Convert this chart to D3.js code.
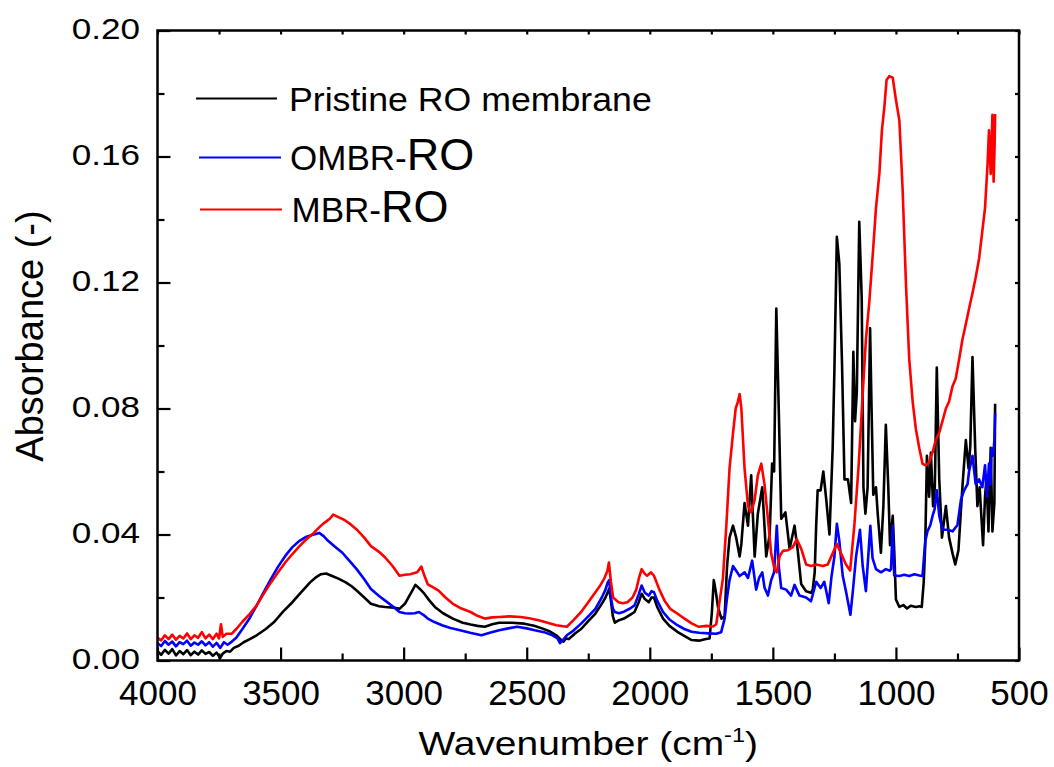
<!DOCTYPE html>
<html>
<head>
<meta charset="utf-8">
<script src="https://cdn.jsdelivr.net/npm/d3@7"></script>
<style>
  html, body { margin: 0; padding: 0; background: #fff; }
  svg text { font-family: "Liberation Sans", Arial, Helvetica, sans-serif; fill: #000; }
</style>
</head>
<body>
<svg id="chart" width="1054" height="767"></svg>
<script>
// ---------------- data ----------------
const xMajorTicks = [4000, 3500, 3000, 2500, 2000, 1500, 1000, 500];
const xMinorTicks = [3750, 3250, 2750, 2250, 1750, 1250, 750];
const yMajorTicks = [0, 0.04, 0.08, 0.12, 0.16, 0.20];
const yMinorTicks = [0.02, 0.06, 0.10, 0.14, 0.18];
const yTickLabels = ["0.00", "0.04", "0.08", "0.12", "0.16", "0.20"];

const seriesNames = ["Pristine RO membrane", "OMBR-RO", "MBR-RO"];
const seriesColors = ["#000000", "#0000ff", "#ff0000"];

const pristineWn = [4000,3985,3970,3955,3940,3925,3910,3895,3880,3865,3850,3835,3820,3805,3790,3775,3760,3745,3735,3720,3705,3690,3670,3650,3625,3597,3560,3525,3490,3452,3415,3380,3355,3336,3315,3293,3265,3235,3210,3191,3160,3133,3100,3075,3040,3017,2995,2970,2952,2935,2916,2895,2873,2840,2800,2760,2728,2700,2670,2640,2612,2560,2510,2470,2438,2405,2380,2360,2351,2340,2329,2300,2279,2250,2221,2195,2180,2171,2165,2158,2150,2142,2125,2105,2080,2062,2045,2033,2020,2004,1993,1983,1970,1946,1920,1888,1860,1830,1800,1772,1757,1748,1740,1732,1723,1709,1696,1686,1676,1662,1649,1635,1628,1615,1601,1588,1574,1561,1543,1527,1513,1503,1495,1486,1476,1466,1449,1432,1412,1399,1385,1365,1345,1338,1330,1324,1318,1306,1295,1283,1270,1257,1250,1240,1230,1219,1209,1195,1182,1173,1166,1159,1149,1139,1132,1124,1115,1105,1099,1092,1081,1074,1061,1051,1041,1031,1024,1013,1007,1000,986,970,955,940,919,905,895,887,881,874,865,858,849,842,834,824,813,805,797,784,770,759,746,730,716,705,698,689,678,669,660,646,638,632,624,615,608,600,597];
const pristineAbs = [.0030,.0018,.0034,.0022,.0036,.0016,.0030,.0020,.0033,.0017,.0028,.0019,.0032,.0021,.0027,.0015,.0025,.0008,.0022,.0030,.0028,.0040,.0047,.0058,.0068,.0080,.0100,.0123,.0155,.0185,.0218,.0248,.0265,.0274,.0276,.0269,.0260,.0248,.0235,.0222,.0200,.0180,.0172,.0170,.0168,.0164,.0180,.0215,.0240,.0228,.0212,.0190,.0170,.0150,.0133,.0120,.0114,.0110,.0107,.0115,.0120,.0120,.0117,.0110,.0102,.0092,.0080,.0065,.0060,.0070,.0068,.0088,.0100,.0125,.0149,.0180,.0200,.0217,.0228,.0190,.0140,.0120,.0128,.0133,.0145,.0154,.0185,.0212,.0195,.0185,.0200,.0200,.0170,.0133,.0110,.0091,.0078,.0065,.0063,.0068,.0070,.0150,.0255,.0220,.0170,.0133,.0140,.0300,.0390,.0428,.0390,.0330,.0370,.0500,.0428,.0588,.0330,.0466,.0550,.0330,.0400,.0625,.0600,.1117,.0797,.0450,.0470,.0354,.0428,.0350,.0243,.0220,.0215,.0225,.0280,.0428,.0540,.0540,.0600,.0510,.0400,.0674,.0920,.1345,.1260,.0942,.0575,.0575,.0500,.0980,.0760,.0850,.1393,.1150,.0550,.0466,.0550,.1055,.0800,.0526,.0550,.0466,.0342,.0490,.0748,.0550,.0366,.0459,.0350,.0194,.0170,.0176,.0165,.0174,.0170,.0172,.0170,.0250,.0366,.0650,.0520,.0660,.0490,.0550,.0930,.0575,.0390,.0440,.0490,.0390,.0340,.0305,.0350,.0550,.0700,.0610,.0680,.0963,.0675,.0490,.0550,.0366,.0520,.0580,.0410,.0675,.0410,.0500,.0815];

const ombrWn = [4000,3985,3970,3955,3940,3925,3910,3895,3880,3865,3850,3835,3820,3805,3790,3775,3760,3745,3730,3715,3698,3680,3655,3625,3597,3570,3539,3510,3481,3452,3423,3395,3365,3343,3325,3307,3280,3249,3220,3191,3160,3133,3100,3075,3045,3017,2995,2974,2955,2938,2920,2902,2875,2844,2810,2771,2730,2684,2650,2612,2575,2539,2500,2467,2430,2395,2375,2365,2350,2337,2310,2279,2250,2221,2195,2180,2171,2165,2158,2150,2142,2125,2105,2080,2062,2045,2033,2020,2004,1993,1983,1970,1946,1920,1888,1860,1830,1800,1760,1730,1710,1696,1686,1676,1662,1649,1635,1615,1601,1584,1568,1556,1543,1534,1520,1507,1495,1484,1476,1466,1446,1426,1412,1392,1365,1345,1324,1306,1291,1273,1262,1250,1240,1230,1216,1203,1185,1175,1162,1146,1135,1122,1104,1095,1081,1061,1041,1025,1020,1013,1007,986,966,946,925,905,892,881,872,860,851,843,834,824,811,790,770,750,736,723,709,703,689,676,662,649,638,630,622,616,611,605,600,597];
const ombrAbs = [.0055,.0046,.0062,.0050,.0060,.0045,.0058,.0052,.0063,.0047,.0057,.0050,.0061,.0048,.0058,.0044,.0056,.0040,.0058,.0050,.0060,.0072,.0100,.0135,.0175,.0215,.0259,.0298,.0332,.0360,.0380,.0393,.0400,.0405,.0395,.0380,.0362,.0342,.0316,.0290,.0258,.0227,.0205,.0190,.0172,.0154,.0150,.0149,.0150,.0154,.0145,.0133,.0122,.0112,.0103,.0096,.0088,.0080,.0088,.0096,.0102,.0107,.0102,.0096,.0090,.0080,.0070,.0055,.0068,.0080,.0095,.0117,.0140,.0164,.0200,.0225,.0248,.0255,.0200,.0165,.0154,.0150,.0155,.0165,.0175,.0210,.0238,.0215,.0206,.0220,.0217,.0190,.0154,.0130,.0112,.0100,.0091,.0088,.0086,.0085,.0090,.0133,.0200,.0255,.0300,.0285,.0268,.0280,.0262,.0317,.0225,.0262,.0280,.0232,.0206,.0255,.0280,.0428,.0300,.0230,.0225,.0206,.0240,.0206,.0200,.0188,.0250,.0230,.0250,.0182,.0265,.0330,.0434,.0380,.0268,.0220,.0145,.0220,.0330,.0415,.0300,.0220,.0428,.0325,.0290,.0280,.0290,.0285,.0290,.0428,.0270,.0268,.0272,.0268,.0274,.0270,.0268,.0378,.0410,.0430,.0460,.0480,.0540,.0460,.0415,.0415,.0410,.0430,.0510,.0540,.0560,.0600,.0650,.0560,.0575,.0550,.0620,.0520,.0625,.0560,.0674,.0650,.0700,.0785];

const mbrWn = [4000,3985,3970,3955,3940,3925,3910,3895,3880,3865,3850,3835,3820,3805,3790,3775,3760,3750,3742,3735,3720,3698,3680,3655,3625,3597,3570,3539,3510,3481,3452,3423,3395,3365,3340,3322,3300,3286,3265,3242,3215,3191,3160,3133,3100,3075,3045,3017,2995,2974,2945,2928,2915,2902,2880,2858,2830,2800,2765,2728,2700,2670,2640,2612,2570,2525,2490,2452,2415,2380,2337,2310,2279,2250,2221,2200,2185,2172,2166,2158,2149,2127,2110,2091,2070,2055,2043,2033,2020,2011,1995,1983,1961,1940,1917,1890,1859,1830,1801,1770,1743,1730,1716,1703,1689,1676,1662,1651,1642,1635,1628,1615,1601,1588,1574,1561,1547,1534,1520,1507,1493,1484,1473,1459,1439,1419,1403,1385,1365,1345,1324,1297,1277,1257,1240,1223,1203,1186,1169,1151,1135,1122,1108,1094,1081,1067,1057,1047,1038,1027,1013,1000,986,973,959,946,932,919,905,892,878,865,851,838,824,811,797,784,770,757,743,730,716,703,689,676,662,649,638,628,622,615,608,603,599,597];
const mbrAbs = [.0072,.0064,.0080,.0068,.0082,.0066,.0078,.0070,.0086,.0068,.0080,.0072,.0090,.0070,.0082,.0068,.0085,.0070,.0115,.0075,.0085,.0085,.0100,.0123,.0148,.0175,.0210,.0248,.0280,.0311,.0338,.0363,.0385,.0405,.0425,.0437,.0450,.0463,.0455,.0447,.0432,.0416,.0390,.0363,.0345,.0327,.0300,.0269,.0272,.0274,.0280,.0298,.0268,.0242,.0232,.0222,.0200,.0180,.0165,.0154,.0142,.0133,.0137,.0138,.0140,.0138,.0134,.0128,.0120,.0112,.0107,.0128,.0154,.0185,.0217,.0240,.0260,.0285,.0311,.0250,.0200,.0185,.0182,.0185,.0200,.0225,.0265,.0290,.0275,.0269,.0280,.0269,.0225,.0190,.0164,.0150,.0133,.0118,.0107,.0110,.0108,.0115,.0190,.0260,.0428,.0610,.0720,.0800,.0822,.0846,.0800,.0610,.0490,.0470,.0510,.0588,.0625,.0560,.0450,.0340,.0290,.0280,.0330,.0348,.0350,.0360,.0385,.0355,.0305,.0300,.0305,.0300,.0305,.0340,.0370,.0340,.0305,.0286,.0428,.0625,.0846,.1018,.1140,.1290,.1437,.1548,.1683,.1757,.1843,.1855,.1850,.1780,.1714,.1500,.1190,.0957,.0822,.0735,.0674,.0625,.0619,.0630,.0662,.0700,.0723,.0760,.0800,.0822,.0871,.0895,.0957,.1018,.1068,.1117,.1166,.1216,.1277,.1363,.1437,.1572,.1683,.1545,.1732,.1520,.1640,.1735];

const legendParts = [
  [{t: "Pristine RO membrane", big: false}],
  [{t: "OMBR-", big: false}, {t: "RO", big: true}],
  [{t: "MBR-", big: false}, {t: "RO", big: true}]
];

// ---------------- layout ----------------
const svg = d3.select("#chart");
const L = 157.5, R = 1019, T = 30.5, B = 660.5;

const x = d3.scaleLinear().domain([4000, 500]).range([L, R]);
const y = d3.scaleLinear().domain([0, 0.20]).range([B, T]);

// curves
const series = [
  {wn: pristineWn, ab: pristineAbs},
  {wn: ombrWn, ab: ombrAbs},
  {wn: mbrWn, ab: mbrAbs}
];
const line = d3.line().x(d => x(d[0])).y(d => y(d[1]));
const gLines = svg.append("g");
series.forEach((s, i) => {
  const pts = s.wn.map((w, j) => [w, s.ab[j]]);
  gLines.append("path")
    .attr("d", line(pts))
    .attr("fill", "none")
    .attr("stroke", seriesColors[i])
    .attr("stroke-width", 2.6)
    .attr("stroke-linejoin", "round");
});

// axes
function styleAxis(g) {
  g.select(".domain").remove();
  g.selectAll("line").attr("stroke", "#000").attr("stroke-width", 2.2);
}
// bottom major
const gxB = svg.append("g").attr("transform", `translate(0,${B})`)
  .call(d3.axisBottom(x).tickValues(xMajorTicks).tickSizeInner(-13).tickSizeOuter(0).tickFormat(d3.format("d")));
styleAxis(gxB);
gxB.selectAll("text").attr("y", 44.5).attr("dy", null)
  .style("font-size", "35px").attr("fill", "#000");
// bottom minor
const gxBm = svg.append("g").attr("transform", `translate(0,${B})`)
  .call(d3.axisBottom(x).tickValues(xMinorTicks).tickSizeInner(-7).tickSizeOuter(0).tickFormat(""));
styleAxis(gxBm);
// top ticks
const gxT = svg.append("g").attr("transform", `translate(0,${T})`)
  .call(d3.axisTop(x).tickValues(xMajorTicks.concat(xMinorTicks)).tickSizeInner(-4).tickSizeOuter(0).tickFormat(""));
styleAxis(gxT);

// left major
const gyL = svg.append("g").attr("transform", `translate(${L},0)`)
  .call(d3.axisLeft(y).tickValues(yMajorTicks).tickSizeInner(-13).tickSizeOuter(0)
    .tickFormat((d, i) => yTickLabels[i]));
styleAxis(gyL);
gyL.selectAll("text").attr("x", 0).attr("dy", null)
  .attr("transform", "translate(-17.5,7.5) scale(1.17,1)")
  .style("font-size", "30px").attr("fill", "#000");
// left minor
const gyLm = svg.append("g").attr("transform", `translate(${L},0)`)
  .call(d3.axisLeft(y).tickValues(yMinorTicks).tickSizeInner(-7).tickSizeOuter(0).tickFormat(""));
styleAxis(gyLm);
// right ticks
const gyR = svg.append("g").attr("transform", `translate(${R},0)`)
  .call(d3.axisRight(y).tickValues(yMajorTicks.concat(yMinorTicks)).tickSizeInner(-4).tickSizeOuter(0).tickFormat(""));
styleAxis(gyR);

// frame
svg.append("rect")
  .attr("x", L).attr("y", T).attr("width", R - L).attr("height", B - T)
  .attr("fill", "none").attr("stroke", "#000").attr("stroke-width", 2.5);

// axis titles
const xt = svg.append("text")
  .attr("transform", `translate(${(L + R) / 2},755) scale(1.18,1)`)
  .attr("text-anchor", "middle")
  .style("font-size", "33px");
xt.append("tspan").text("Wavenumber (cm");
xt.append("tspan").attr("dy", -13).style("font-size", "20px").text("-1");
xt.append("tspan").attr("dy", 13).text(")");

svg.append("text")
  .attr("transform", `translate(43,336) rotate(-90)`)
  .attr("text-anchor", "middle")
  .style("font-size", "38px")
  .text("Absorbance (-)");

// legend
const legY = [98.5, 157.5, 209.5];
const legBase = [110.7, 170, 221.7];
const legLineX = [[196, 277], [199, 281], [200, 282]];
const legTextX = [289, 290, 291.5];
legendParts.forEach((parts, i) => {
  svg.append("line")
    .attr("x1", legLineX[i][0]).attr("x2", legLineX[i][1])
    .attr("y1", legY[i]).attr("y2", legY[i])
    .attr("stroke", seriesColors[i]).attr("stroke-width", 2.2);
  const t = svg.append("text")
    .attr("transform", `translate(${legTextX[i]},${legBase[i]})` + (i === 0 ? " scale(1.065,1)" : ""));
  parts.forEach(p => {
    t.append("tspan").style("font-size", i === 0 ? "33.5px" : (p.big ? "45px" : "35px")).text(p.t);
  });
});
</script>
</body>
</html>
